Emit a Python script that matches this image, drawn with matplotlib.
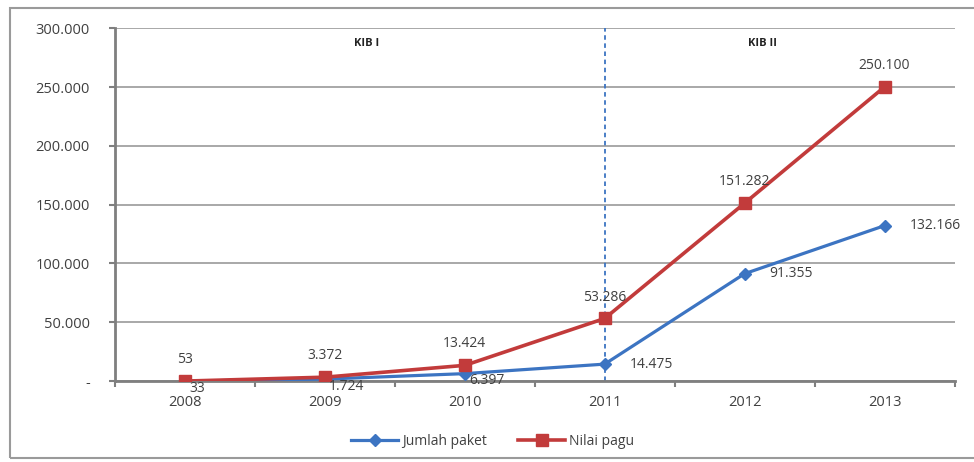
import matplotlib.pyplot as plt
from matplotlib.patches import Rectangle
from matplotlib.ticker import FuncFormatter, FixedLocator

plt.rcParams['font.family'] = ['Open Sans', 'DejaVu Sans']

tahun = ['2008', '2009', '2010', '2011', '2012', '2013']
jumlah_paket = [33, 1724, 6397, 14475, 91355, 132166]
nilai_pagu = [53, 3372, 13424, 53286, 151282, 250100]
periode = ['KIB I', 'KIB II']

blue = '#3C74C2'
red = '#C23B3B'
txt = '#404040'

def ribuan(v):
    return f"{v:,.0f}".replace(',', '.')

fig = plt.figure(figsize=(9.74, 4.62), dpi=100)
ax = fig.add_axes([0.118, 0.175, 0.862, 0.764])

x = list(range(len(tahun)))
ax.plot(x, jumlah_paket, color=blue, lw=2.3, marker='D', ms=6,
        label='Jumlah paket', zorder=3)
ax.plot(x, nilai_pagu, color=red, lw=2.6, marker='s', ms=8,
        label='Nilai pagu', zorder=4)

# labels: nilai pagu above, jumlah paket to the right
for i, v in enumerate(nilai_pagu):
    ax.annotate(ribuan(v), (i, v), xytext=(0, 10), textcoords='offset points',
                ha='center', va='bottom', fontsize=10, color=txt, zorder=5)
for i, v in enumerate(jumlah_paket):
    if i < 3:
        off = (3, -5)
    else:
        off = (18, 0)
    ax.annotate(ribuan(v), (i, v), xytext=off, textcoords='offset points',
                ha='left', va='center', fontsize=10, color=txt, zorder=5)

# pembatas periode KIB I / KIB II
ax.axvline(3, color=blue, ls=(0, (2.5, 2)), lw=1.3, zorder=2)
ax.text(1.3, 287000, periode[0], ha='center', va='center', fontsize=8,
        fontweight='bold', color='#222222')
ax.text(4.13, 287000, periode[1], ha='center', va='center', fontsize=8,
        fontweight='bold', color='#222222')

ax.set_xlim(-0.5, 5.5)
ax.set_ylim(0, 300000)
ax.set_yticks(range(0, 300001, 50000))
ax.yaxis.set_major_formatter(FuncFormatter(lambda v, p: '-' if v == 0 else ribuan(v)))
ax.set_xticks(x)
ax.set_xticklabels(tahun)
ax.xaxis.set_minor_locator(FixedLocator([i + 0.5 for i in range(-1, 6)]))

ax.grid(axis='y', color='#9a9a9a', lw=1.2, zorder=0)
ax.set_axisbelow(True)
for s in ['top', 'right']:
    ax.spines[s].set_visible(False)
for s in ['left', 'bottom']:
    ax.spines[s].set_color('#7f7f7f')
    ax.spines[s].set_linewidth(2)

ax.tick_params(axis='y', length=4, width=1.5, color='#7f7f7f', labelsize=10.5,
               labelcolor=txt, pad=14)
ax.tick_params(axis='x', which='major', length=0, labelsize=10.5,
               labelcolor=txt, pad=10)
ax.tick_params(axis='x', which='minor', length=4, width=1.5, color='#7f7f7f')

ax.legend(loc='upper center', bbox_to_anchor=(0.45, -0.115), ncol=2,
          frameon=False, fontsize=10, labelcolor=txt, handlelength=3.4,
          columnspacing=2.2, handletextpad=0.3)

# bingkai luar
fig.patches.append(Rectangle((10 / 974, 1 - 458 / 462), 1.0, (458 - 8) / 462,
                             transform=fig.transFigure, fill=False,
                             edgecolor='#9a9a9a', lw=1.5, zorder=0))

fig.savefig('out.png', dpi=100)
